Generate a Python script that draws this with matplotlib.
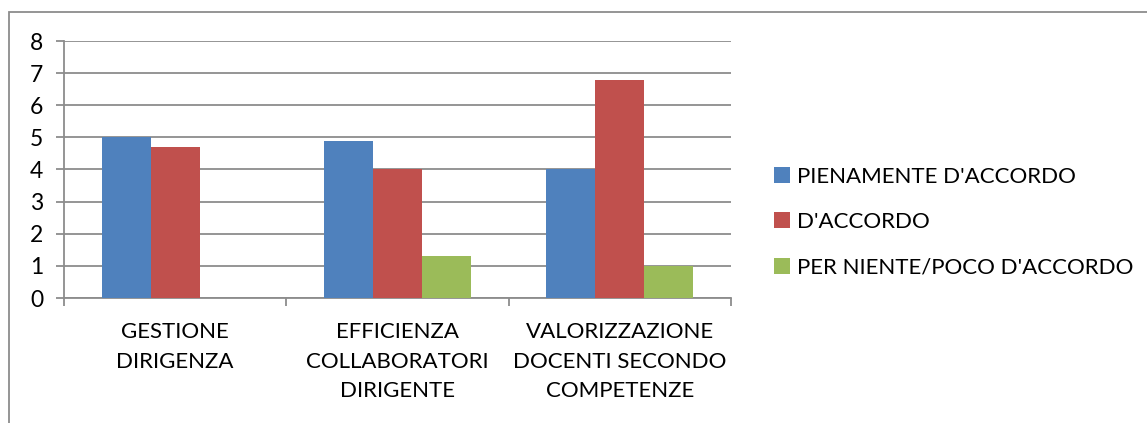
import matplotlib
matplotlib.use("Agg")
import matplotlib.pyplot as plt
import numpy as np
from matplotlib.patches import Rectangle

categories = ["GESTIONE\nDIRIGENZA",
              "EFFICIENZA\nCOLLABORATORI\nDIRIGENTE",
              "VALORIZZAZIONE\nDOCENTI SECONDO\nCOMPETENZE"]
series_names = ["PIENAMENTE D'ACCORDO", "D'ACCORDO", "PER NIENTE/POCO D'ACCORDO"]
pienamente = [5.0, 4.9, 4.0]
accordo = [4.7, 4.0, 6.8]
per_niente = [0.0, 1.3, 1.0]
y_ticks = [0, 1, 2, 3, 4, 5, 6, 7, 8]

colors = ["#4f81bd", "#c0504d", "#9bbb59"]
plt.rcParams['font.family'] = ['Lato', 'DejaVu Sans']

fig = plt.figure(figsize=(11.47, 4.23), dpi=100)
ax = fig.add_axes([64 / 1147, 1 - 298 / 423, (731 - 64) / 1147, (298 - 41) / 423])

x = np.arange(len(categories))
w = 0.22
for i, (vals, name) in enumerate(zip([pienamente, accordo, per_niente], series_names)):
    ax.bar(x + (i - 1) * w, vals, width=w, color=colors[i], label=name, zorder=3)

ax.set_xlim(-0.5, len(categories) - 0.5)
ax.set_ylim(0, 8)
ax.set_yticks(y_ticks)
ax.set_yticklabels([str(t) for t in y_ticks], fontsize=16.5)
ax.yaxis.grid(True, color="#8c8c8c", linewidth=1.3, zorder=0)
ax.set_axisbelow(True)

# category ticks at boundaries, labels centered
ax.set_xticks(np.arange(len(categories) + 1) - 0.5)
ax.set_xticklabels([])
ax.set_xticks(x, minor=True)
ax.set_xticklabels(categories, minor=True, fontsize=16, linespacing=1.62)
ax.tick_params(axis="x", which="minor", length=0, pad=17)
ax.tick_params(axis="x", which="major", length=6, color="#8c8c8c", width=1.3)
ax.tick_params(axis="y", length=6, color="#8c8c8c", width=1.3, pad=9)

for s in ["top", "right"]:
    ax.spines[s].set_visible(False)
for s in ["left", "bottom"]:
    ax.spines[s].set_color("#8c8c8c")
    ax.spines[s].set_linewidth(1.3)

leg = ax.legend(loc="center left", bbox_to_anchor=(1.035, 0.295), frameon=False,
                fontsize=16, handlelength=0.72, handleheight=0.72,
                handletextpad=0.3, labelspacing=1.15)

# outer chart border
fig.patches.append(Rectangle((9 / 1147, -0.05), 1.2, 1 - 12 / 423 + 0.05,
                             transform=fig.transFigure, fill=False,
                             edgecolor="#8c8c8c", linewidth=1.3))

fig.savefig("out.png", dpi=100)
